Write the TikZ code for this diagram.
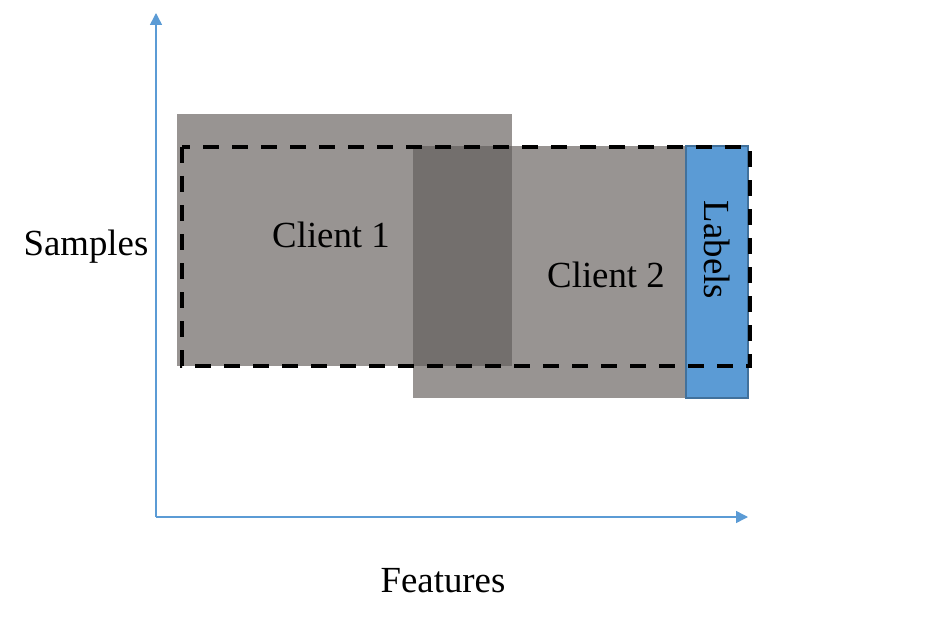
\documentclass[tikz,border=0pt]{standalone}
\usepackage{fontspec}
\setmainfont{Liberation Serif}
\usetikzlibrary{arrows.meta}
\definecolor{axisblue}{HTML}{5B9BD5}
\definecolor{labborder}{HTML}{41719C}
\definecolor{cgray}{HTML}{989492}
\definecolor{cdark}{HTML}{736F6D}
\tikzset{
  axis/.style={draw=axisblue, line width=1.5bp, -{Triangle[length=12bp,width=12bp]}},
  txt/.style={font=\fontsize{36.8bp}{42bp}\selectfont, inner sep=0pt},
  dashbox/.style={draw=black, line width=3.2bp, dash pattern=on 16bp off 13bp}
}
\begin{document}
\begin{tikzpicture}[x=1bp,y=-1bp]
\useasboundingbox (0,0) rectangle (933,625);
% axes
\coordinate (O) at (156,517);
\coordinate (Ytip) at (156,13);
\coordinate (Xtip) at (748,517);
\draw[axis] (O) -- (Ytip);
\draw[axis] (O) -- (Xtip);
% client rectangles
\fill[cgray] (177,114) rectangle (512,366);
\fill[cgray] (413,146) rectangle (686,398);
\fill[cdark] (413,146) rectangle (512,366);
\filldraw[fill=axisblue, draw=labborder, line width=1.2bp] (686,146) rectangle (748,398);
% dashed outline
\draw[dashbox] (182,147) rectangle (750,366);
% texts
\node[txt] (c1) at (331,235) {Client 1};
\node[txt] (c2) at (606,275) {Client 2};
\node[txt, rotate=-90] (lab) at (717,250) {Labels};
\node[txt] (samples) at (86,247) {Samples};
\node[txt] (features) at (443,581) {Features};
\end{tikzpicture}
\end{document}
